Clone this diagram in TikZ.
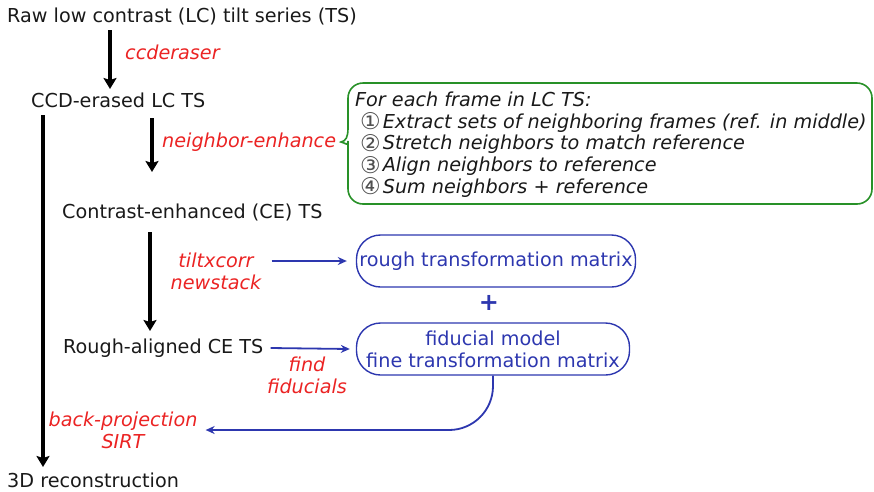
\documentclass[tikz,border=0pt]{standalone}
\usepackage{fontspec}
\setmainfont{DejaVu Sans}
\usetikzlibrary{arrows.meta}
\definecolor{cred}{RGB}{235,35,35}
\definecolor{cblue}{RGB}{45,55,175}
\definecolor{cgreen}{RGB}{40,145,40}
\definecolor{ctext}{RGB}{25,25,25}
\definecolor{cnum}{RGB}{80,80,80}
\newcommand{\cnumb}[1]{{\upshape\color{cnum}\fontsize{23}{21.6}\selectfont\raisebox{-1.5pt}{#1}}\kern2pt}
\begin{document}
\begin{tikzpicture}[x=1pt,y=-1pt,
  every node/.style={inner sep=0pt, text=ctext},
  base/.style={font=\fontsize{19.2}{22}\selectfont},
  lbl/.style={base, anchor=west},
  tool/.style={text=cred, font=\fontsize{19.2}{22}\selectfont\itshape, align=center},
  bigarrow/.style={line width=3.6pt, draw=black, -{Stealth[length=11pt,width=13pt,inset=2pt]}},
  bluearrow/.style={line width=1.8pt, draw=cblue, -{Stealth[length=9pt,width=8pt]}},
  bbox/.style={draw=cblue, line width=1.4pt, rounded corners=24pt, text=cblue, align=center,
     font=\fontsize{19.2}{22}\selectfont},
  gbox/.style={draw=cgreen, line width=1.6pt}
]
\useasboundingbox (0,0) rectangle (874,491);

% main text nodes
\node[lbl] (raw) at (7,16) {Raw low contrast (LC) tilt series (TS)};
\node[lbl] (ccd) at (31,100) {CCD-erased LC TS};
\node[lbl] (ce) at (62,212) {Contrast-enhanced (CE) TS};
\node[lbl] (rough) at (63,348) {Rough-aligned CE TS};
\node[lbl] (recon) at (7,480) {3D reconstruction};

% tool labels
\node[tool, anchor=west] (ccderaser) at (125,52) {ccderaser};
\node[tool, anchor=west] (nenh) at (162,142) {neighbor-enhance};
\node[tool] (tilt) at (216,271) {tiltxcorr\\newstack};
\node[tool] (find) at (307,375) {find\\fiducials};
\node[tool] (bp) at (123,430) {back-projection\\SIRT};

% free arrow ends
\coordinate (a1s) at (110,30);
\coordinate (a1e) at (110,89);
\coordinate (a2s) at (43,115);
\coordinate (a2e) at (43,467);
\coordinate (a3s) at (152,118);
\coordinate (a3e) at (152,172);
\coordinate (a4s) at (150,232);
\coordinate (a4e) at (150,331);

\draw[bigarrow] (a1s) -- (a1e);
\draw[bigarrow] (a2s) -- (a2e);
\draw[bigarrow] (a3s) -- (a3e);
\draw[bigarrow] (a4s) -- (a4e);

% blue boxes
\node[bbox, minimum width=279pt, minimum height=52pt] (rtm) at (496,261) {rough transformation matrix};
\node[text=cblue, font=\fontsize{24}{24}\selectfont\bfseries] (plus) at (489,303) {+};
\node[bbox, minimum width=273pt, minimum height=52pt] (fid) at (493,349) {fiducial model\\fine transformation matrix};

\draw[bluearrow] ([xshift=10pt]tilt.east |- rtm.west) -- ([xshift=-9pt]rtm.west);
\draw[bluearrow] ([xshift=7pt]rough.east) -- ([xshift=-6pt]fid.west);
\draw[bluearrow, rounded corners=44pt] (fid.south) |- ([xshift=8pt]bp.east);

% green box
\draw[gbox] (348,128) [rounded corners=15pt] -- (348,83) -- (872,83) -- (872,204) -- (348,204) -- (348,156)
  [sharp corners] .. controls (348,147) and (346,143) .. (341,142) .. controls (346,141) and (348,137) .. (348,128);
\node[anchor=north west, align=left, font=\fontsize{19.2}{21.6}\selectfont\itshape] (steps) at (355,92)
  {For each frame in LC TS:\\
   \hspace{5pt}\cnumb{①}Extract sets of neighboring frames (ref. in middle)\\
   \hspace{5pt}\cnumb{②}Stretch neighbors to match reference\\
   \hspace{5pt}\cnumb{③}Align neighbors to reference\\
   \hspace{5pt}\cnumb{④}Sum neighbors + reference};
\end{tikzpicture}
\end{document}
